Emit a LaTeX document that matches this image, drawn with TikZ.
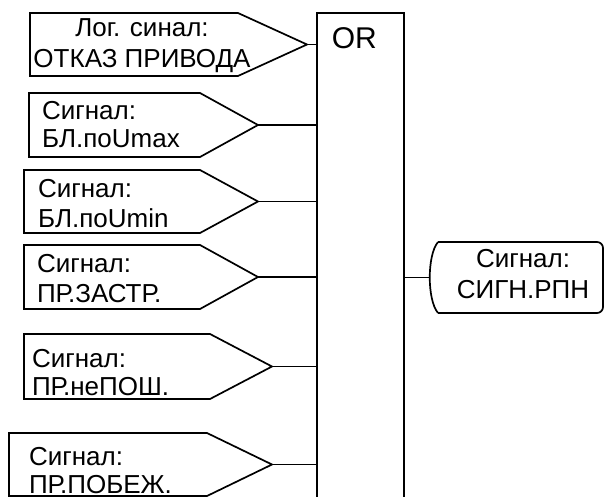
\documentclass[tikz,border=0pt]{standalone}
\usepackage{fontspec}
\setmainfont{Liberation Sans}
\begin{document}
\begin{tikzpicture}[x=1pt,y=-1pt,line width=1.7pt]
\tikzset{
  lbl/.style={inner sep=0pt, outer sep=0pt, align=left, anchor=base west, font=\fontsize{26}{#1}\selectfont},
  lblc/.style={inner sep=0pt, outer sep=0pt, align=center, anchor=base, font=\fontsize{26}{#1}\selectfont},
  wire/.style={draw, line width=1.7pt}
}
\newcommand\sigshape[6]{%
  \draw (#2,#3) -- (#5,#3) -- (#6,{(#3+#4)/2}) -- (#5,#4) -- (#2,#4) -- cycle;
  \coordinate (#1) at (#6,{(#3+#4)/2});}
\useasboundingbox (0,0) rectangle (605,497);
% OR block
\node[draw, line width=1.9pt, minimum width=87pt, minimum height=530pt, anchor=north west, inner sep=0pt, outer sep=0pt] (or) at (317,13) {};
\node[inner sep=0pt, anchor=base west, font=\fontsize{30}{30}\selectfont] (ortxt) at (331,49) {OR};
% input signals
\sigshape{s1}{30}{13}{76}{238}{307}
\sigshape{s2}{29}{93}{157}{200}{258}
\sigshape{s3}{24}{170}{233}{200}{258}
\sigshape{s4}{24}{245}{309}{200}{258}
\sigshape{s5}{24}{334}{399}{210}{272}
\sigshape{s6}{9}{433}{496}{207}{272}
% base anchor = baseline of the last line
\node[lblc=31.5] (t1) at (142,68) {Лог. синал:\\ОТКАЗ ПРИВОДА};
\node[lbl=28] (t2) at (42,148) {Сигнал:\\БЛ.поUmax};
\node[lbl=30] (t3) at (38,228) {Сигнал:\\БЛ.поUmin};
\node[lbl=30] (t4) at (37,302) {Сигнал:\\ПР.ЗАСТР.};
\node[lbl=28] (t5) at (32,395) {Сигнал:\\ПР.неПОШ.};
\node[lbl=28] (t6) at (29,493) {Сигнал:\\ПР.ПОБЕЖ.};
\foreach \s in {s1,s2,s3,s4,s5,s6} {\draw[wire] (\s) -- (\s -| or.west);}
% output signal
\draw[rounded corners=6pt] (438,242) -- (603,242) -- (603,313) -- (438,313);
\draw (438,313) .. controls (427,300) and (427,255) .. (438,242);
\coordinate (o1) at (429.8,277.5);
\node[lblc=31] (to) at (523,298) {Сигнал:\\СИГН.РПН};
\draw[wire] (or.east |- o1) -- (o1);
\end{tikzpicture}
\end{document}
